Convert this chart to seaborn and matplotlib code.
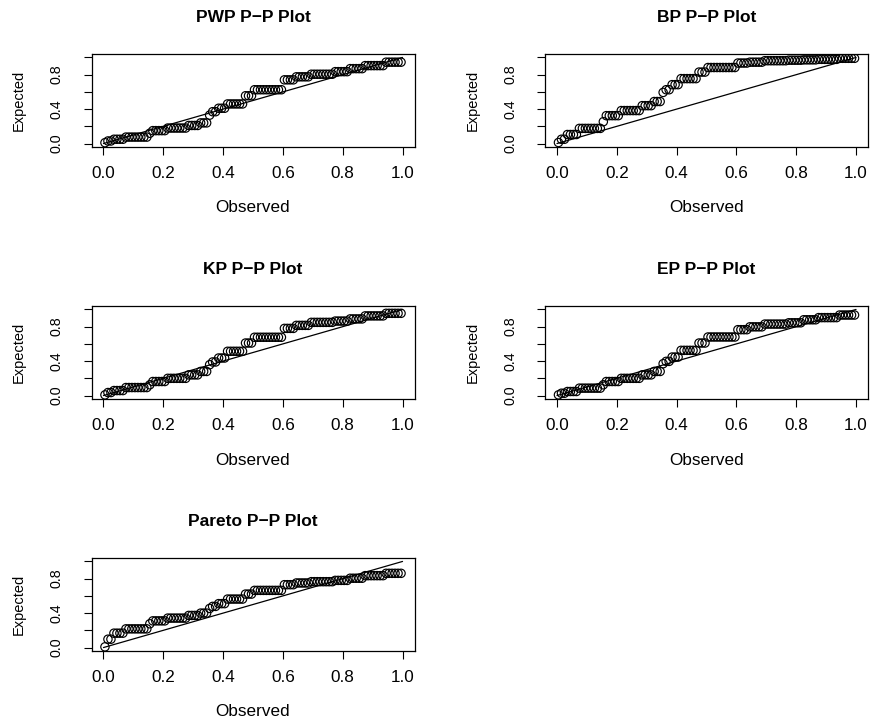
import numpy as np
import pandas as pd
import matplotlib
matplotlib.use("Agg")
import matplotlib.pyplot as plt
import seaborn as sns

# ---------------- data ----------------
observed = [
    0.005, 0.015, 0.025, 0.035, 0.045, 0.055, 0.065, 0.075, 0.085, 0.095,
    0.105, 0.115, 0.125, 0.135, 0.145, 0.155, 0.165, 0.175, 0.185, 0.195,
    0.205, 0.215, 0.225, 0.235, 0.245, 0.255, 0.265, 0.275, 0.285, 0.295,
    0.305, 0.315, 0.325, 0.335, 0.345, 0.355, 0.365, 0.375, 0.385, 0.395,
    0.405, 0.415, 0.425, 0.435, 0.445, 0.455, 0.465, 0.475, 0.485, 0.495,
    0.505, 0.515, 0.525, 0.535, 0.545, 0.555, 0.565, 0.575, 0.585, 0.595,
    0.605, 0.615, 0.625, 0.635, 0.645, 0.655, 0.665, 0.675, 0.685, 0.695,
    0.705, 0.715, 0.725, 0.735, 0.745, 0.755, 0.765, 0.775, 0.785, 0.795,
    0.805, 0.815, 0.825, 0.835, 0.845, 0.855, 0.865, 0.875, 0.885, 0.895,
    0.905, 0.915, 0.925, 0.935, 0.945, 0.955, 0.965, 0.975, 0.985, 0.995,
]
# number of tied observations in each group (sums to 100)
tie_sizes = [1, 2, 4, 8, 1, 5, 7, 4, 3, 1, 2, 3, 6, 3, 10, 4, 5, 8, 5, 5, 7, 6]

pwp_expected = [0.010, 0.030, 0.050, 0.075, 0.120, 0.150, 0.180, 0.210, 0.240, 0.330, 0.370,
                0.410, 0.460, 0.555, 0.625, 0.740, 0.775, 0.805, 0.835, 0.870, 0.905, 0.945]
bp_expected = [0.012, 0.050, 0.105, 0.176, 0.254, 0.324, 0.383, 0.440, 0.488, 0.594, 0.625,
               0.684, 0.754, 0.830, 0.883, 0.935, 0.945, 0.962, 0.968, 0.972, 0.978, 0.990]
kp_expected = [0.008, 0.035, 0.058, 0.093, 0.125, 0.163, 0.200, 0.240, 0.280, 0.358, 0.390,
               0.436, 0.514, 0.610, 0.677, 0.780, 0.815, 0.850, 0.865, 0.890, 0.925, 0.955]
ep_expected = [0.008, 0.027, 0.047, 0.086, 0.125, 0.163, 0.200, 0.240, 0.280, 0.370, 0.397,
               0.447, 0.525, 0.610, 0.680, 0.765, 0.798, 0.830, 0.845, 0.880, 0.905, 0.935]
pareto_expected = [0.008, 0.097, 0.167, 0.217, 0.276, 0.310, 0.342, 0.373, 0.400, 0.454, 0.478,
                   0.510, 0.563, 0.621, 0.664, 0.730, 0.750, 0.765, 0.780, 0.805, 0.835, 0.862]

titles = ["PWP P\u2212P Plot", "BP P\u2212P Plot", "KP P\u2212P Plot", "EP P\u2212P Plot", "Pareto P\u2212P Plot"]
series = [pwp_expected, bp_expected, kp_expected, ep_expected, pareto_expected]
ref_line = [0.0, 1.0]
x_ticks = [0.0, 0.2, 0.4, 0.6, 0.8, 1.0]
x_tick_labels = ["0.0", "0.2", "0.4", "0.6", "0.8", "1.0"]
y_ticks = [0.0, 0.2, 0.4, 0.6, 0.8, 1.0]
y_tick_labels = ["0.0", "", "0.4", "", "0.8", ""]

# ---------------- style ----------------
sns.set_style("ticks")
plt.rcParams["font.family"] = ["Liberation Sans", "DejaVu Sans"]
plt.rcParams["text.color"] = "black"
plt.rcParams["axes.labelcolor"] = "black"
plt.rcParams["xtick.color"] = "black"
plt.rcParams["ytick.color"] = "black"

W, H = 873, 718
fig = plt.figure(figsize=(W / 100, H / 100), dpi=100)
fig.patch.set_facecolor("white")

# panel boxes in pixel coords: (left, top)
col_left = [91.5, 545.0]
row_top = [54.0, 306.0, 558.0]
box_w, box_h = 323.0, 93.0

positions = [(0, 0), (0, 1), (1, 0), (1, 1), (2, 0)]
for k, (r, c) in enumerate(positions):
    l = col_left[c]
    t = row_top[r]
    ax = fig.add_axes([l / W, 1 - (t + box_h) / H, box_w / W, box_h / H])
    df = pd.DataFrame({
        "Observed": observed,
        "Expected": np.repeat(series[k], tie_sizes),
    })
    sns.lineplot(x=ref_line, y=ref_line, ax=ax, color="black", linewidth=0.9)
    sns.scatterplot(data=df, x="Observed", y="Expected", ax=ax, marker="o",
                    s=36, facecolor="none", edgecolor="black", linewidth=0.85)
    ax.set_xlim(-0.04, 1.04)
    ax.set_ylim(-0.04, 1.04)
    ax.set_xticks(x_ticks)
    ax.set_xticklabels(x_tick_labels)
    ax.set_yticks(y_ticks)
    ax.set_yticklabels(y_tick_labels, rotation=90, va="center")
    ax.tick_params(axis="both", direction="out", length=5.5, width=0.8,
                   color="black", labelcolor="black")
    ax.tick_params(axis="x", pad=8, labelsize=12.3)
    ax.tick_params(axis="y", pad=14.5, labelsize=10.3)
    for sp in ax.spines.values():
        sp.set_visible(True)
        sp.set_color("black")
        sp.set_linewidth(0.9)
    ax.set_xlabel("Observed", fontsize=12.3, color="black")
    ax.set_ylabel("Expected", fontsize=10.5, color="black")
    ax.xaxis.label.set_va("center")
    ax.yaxis.label.set_va("center")
    ax.xaxis.set_label_coords(0.5, -61 / box_h)
    ax.yaxis.set_label_coords(-72.5 / box_w, 0.5)
    ax.text(0.5, 1 + 36 / box_h, titles[k], transform=ax.transAxes,
            ha="center", va="center", fontsize=12.5, fontweight="bold", color="black")

fig.savefig("out.png", dpi=100, facecolor="white")
